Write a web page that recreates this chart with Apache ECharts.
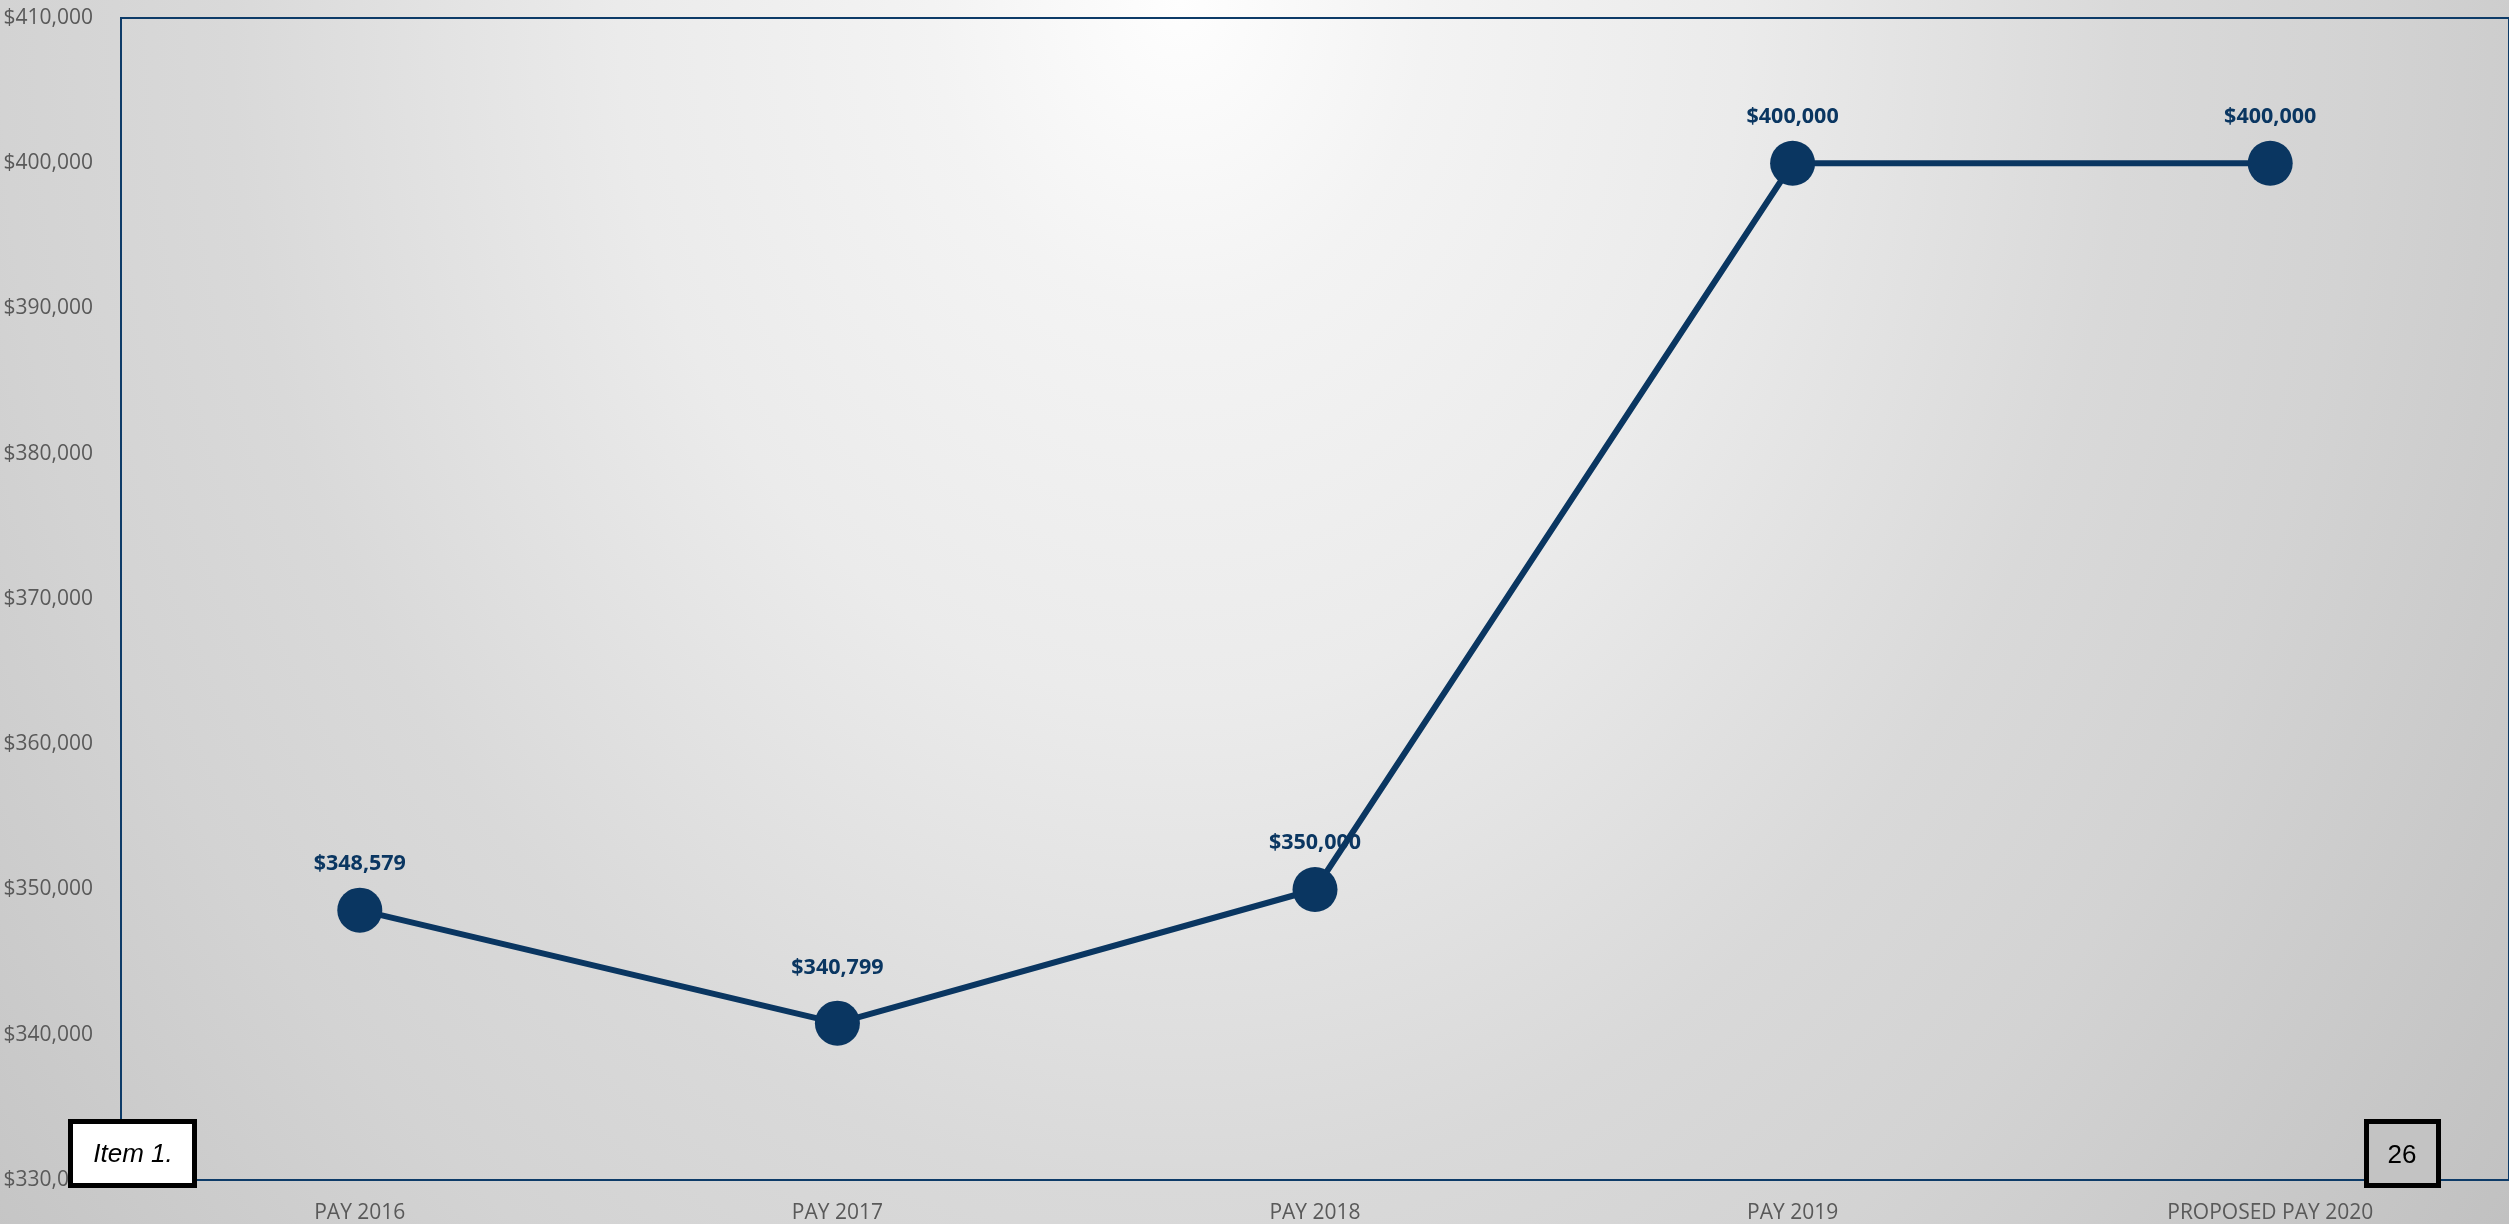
<!DOCTYPE html>
<html>
<head>
<meta charset="utf-8">
<title>Pay by year</title>
<script src="https://cdn.jsdelivr.net/npm/echarts@6/dist/echarts.min.js"></script>
<style>
  html, body { margin: 0; padding: 0; }
  #chart { width: 2509px; height: 1224px; }
</style>
</head>
<body>
<div id="chart"></div>
<script>
// Pay amounts by year
const categories = ['PAY 2016', 'PAY 2017', 'PAY 2018', 'PAY 2019', 'PROPOSED PAY 2020'];
const payValues = [348579, 340799, 350000, 400000, 400000];
const yMin = 330000;
const yMax = 410000;
const yStep = 10000;

const navy = '#0a3661';
const axisNavy = '#0d3b68';
const tickGrey = '#595959';

function money(v) {
  return '$' + Number(v).toLocaleString('en-US');
}

// the 2017 label sits a little higher than the others
const seriesData = payValues.map(function (v, i) {
  return i === 1 ? { value: v, label: { offset: [0, -9] } } : v;
});

const chart = echarts.init(document.getElementById('chart'));

chart.setOption({
  animation: false,
  backgroundColor: '#d0d0d0',
  grid: {
    left: 121,
    right: -2,
    top: 18,
    bottom: 44,
    show: true,
    borderColor: axisNavy,
    borderWidth: 2,
    backgroundColor: 'transparent'
  },
  xAxis: {
    type: 'category',
    data: categories,
    boundaryGap: true,
    axisLine: { show: true, lineStyle: { color: axisNavy, width: 2 } },
    axisTick: { show: false },
    axisLabel: {
      color: tickGrey,
      fontFamily: 'Open Sans',
      fontSize: 21,
      margin: 23,
      interval: 0
    },
    splitLine: { show: false }
  },
  yAxis: {
    type: 'value',
    min: yMin,
    max: yMax,
    interval: yStep,
    axisLine: { show: true, lineStyle: { color: axisNavy, width: 2 } },
    axisTick: { show: false },
    splitLine: { show: false },
    axisLabel: {
      color: tickGrey,
      fontFamily: 'Open Sans',
      fontSize: 21,
      margin: 28,
      formatter: money
    }
  },
  series: [{
    type: 'line',
    data: seriesData,
    symbol: 'circle',
    symbolSize: 45,
    lineStyle: { color: navy, width: 6 },
    itemStyle: { color: navy },
    label: {
      show: true,
      position: 'top',
      distance: 13,
      color: navy,
      fontFamily: 'Open Sans',
      fontWeight: 'bold',
      fontSize: 21.5,
      formatter: function (p) { return money(p.value); }
    },
    z: 3
  }],
  graphic: [
    {
      // soft light patch near the top centre, stretched vertically
      type: 'rect',
      z: -100,
      silent: true,
      shape: { x: 0, y: 0, width: 2509, height: 980 },
      scaleY: 1.25,
      style: {
        fill: {
          type: 'radial',
          x: 1180,
          y: 0,
          r: 1650,
          global: true,
          colorStops: [
            { offset: 0, color: '#fefefe' },
            { offset: 0.15, color: '#f3f3f3' },
            { offset: 0.34, color: '#ebebeb' },
            { offset: 0.576, color: '#d9d9d9' },
            { offset: 0.715, color: '#d3d3d3' },
            { offset: 1, color: '#c1c1c1' }
          ]
        }
      }
    },
    {
      type: 'group',
      z: 100,
      children: [
        {
          type: 'rect',
          z: 100,
          shape: { x: 70.5, y: 1121.5, width: 124, height: 64 },
          style: { fill: '#ffffff', stroke: '#000000', lineWidth: 5 }
        },
        {
          type: 'text',
          z: 101,
          x: 133,
          y: 1155,
          style: {
            text: 'Item 1.',
            fill: '#000000',
            font: 'italic 26px "Liberation Sans", Arial, sans-serif',
            align: 'center',
            verticalAlign: 'middle'
          }
        },
        {
          type: 'rect',
          z: 100,
          shape: { x: 2366.5, y: 1121.5, width: 72, height: 64 },
          style: { fill: '#c3c3c3', stroke: '#000000', lineWidth: 5 }
        },
        {
          type: 'text',
          z: 101,
          x: 2402,
          y: 1156,
          style: {
            text: '26',
            fill: '#000000',
            font: '26px "Liberation Sans", Arial, sans-serif',
            align: 'center',
            verticalAlign: 'middle'
          }
        }
      ]
    }
  ]
});
</script>
</body>
</html>
